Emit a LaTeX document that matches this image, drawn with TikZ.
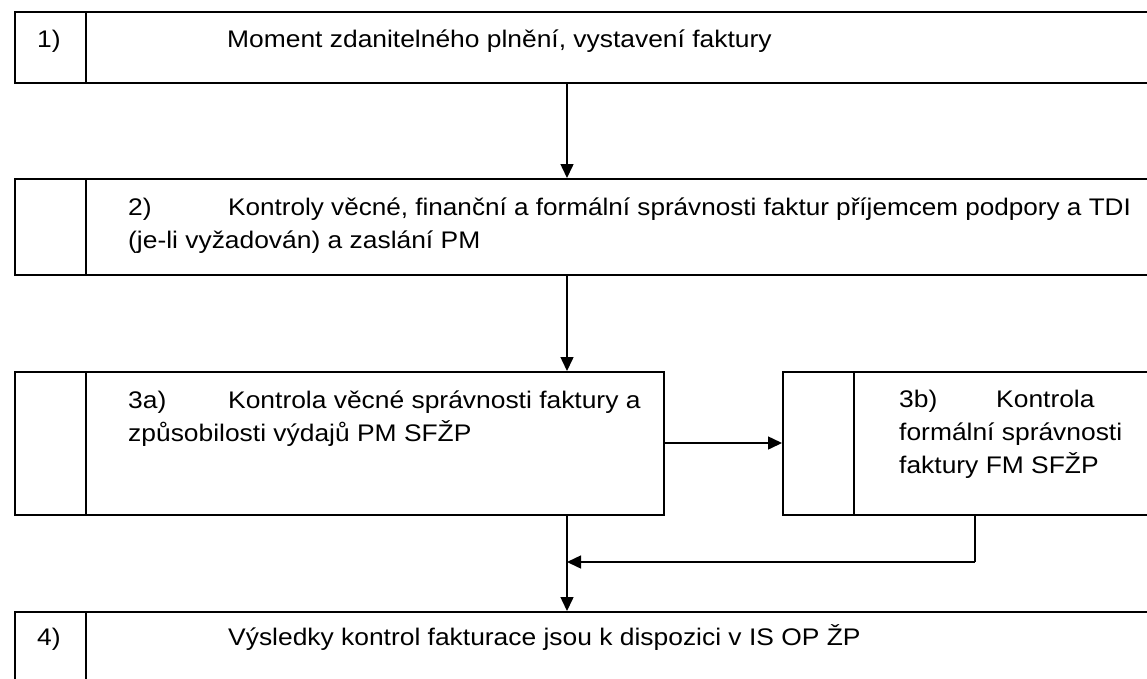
\documentclass[tikz,border=0pt]{standalone}
\usepackage{fontspec}
\setmainfont{Liberation Sans}[FakeStretch=1.1]
\newfontfamily\narrowf{Liberation Sans}[FakeStretch=1.088]
\usetikzlibrary{arrows.meta}
\begin{document}
\begin{tikzpicture}[x=1pt,y=-1pt,
  box/.style={draw=black,line width=1.5pt,rectangle,inner sep=0pt,anchor=north west},
  divider/.style={draw=black,line width=1.5pt},
  txt/.style={anchor=base west,inner sep=0pt,font=\fontsize{24}{33}\selectfont},
  conn/.style={draw=black,line width=1.5pt,-{Triangle[length=14pt,width=13pt]}},
  plain/.style={draw=black,line width=1.5pt}]
\useasboundingbox (0,0) rectangle (1147,678);
\clip (0,0) rectangle (1147,678);
\fill[white] (0,0) rectangle (1147,678);
% boxes
\node[box,minimum width=1146pt,minimum height=71pt] (b1) at (14,11) {};
\node[box,minimum width=1146pt,minimum height=96pt] (b2) at (14,178) {};
\node[box,minimum width=649pt,minimum height=143pt] (b3a) at (14,371) {};
\node[box,minimum width=378pt,minimum height=143pt] (b3b) at (782,371) {};
\node[box,minimum width=1146pt,minimum height=90pt] (b4) at (14,611) {};
% dividers
\coordinate (d1) at (86,0);
\coordinate (d2) at (854,0);
\draw[divider] (b1.north -| d1) -- (b1.south -| d1);
\draw[divider] (b2.north -| d1) -- (b2.south -| d1);
\draw[divider] (b3a.north -| d1) -- (b3a.south -| d1);
\draw[divider] (b3b.north -| d2) -- (b3b.south -| d2);
\draw[divider] (b4.north -| d1) -- (b4.south -| d1);
% texts
\node[txt] (t1n) at (37,47) {1)};
\node[txt] (t1) at (227,47) {Moment zdanitelného plnění, vystavení faktury};
\node[txt] (t2n) at (128,215) {2)};
\node[txt,font=\fontsize{24}{33}\narrowf] (t2a) at (228,215) {Kontroly věcné, finanční a formální správnosti faktur příjemcem podpory a TDI};
\node[txt] (t2b) at (128,248) {(je-li vyžadován) a zaslání PM};
\node[txt] (t3an) at (128,408) {3a)};
\node[txt] (t3a1) at (228,408) {Kontrola věcné správnosti faktury a};
\node[txt] (t3a2) at (128,441) {způsobilosti výdajů PM SFŽP};
\node[txt] (t3bn) at (899,407) {3b)};
\node[txt] (t3b1) at (996,407) {Kontrola};
\node[txt] (t3b2) at (899,440) {formální správnosti};
\node[txt] (t3b3) at (899,473) {faktury FM SFŽP};
\node[txt] (t4n) at (37,645) {4)};
\node[txt] (t4) at (228,645) {Výsledky kontrol fakturace jsou k dispozici v IS OP ŽP};
% connectors
\coordinate (cx) at (567,0);
\coordinate (rx) at (975,0);
\coordinate (hy) at (0,443);
\coordinate (j) at (567,562);
\coordinate (r) at (975,562);
\draw[conn] (b1.south -| cx) -- (b2.north -| cx);
\draw[conn] (b2.south -| cx) -- (b3a.north -| cx);
\draw[conn] (b3a.east |- hy) -- (b3b.west |- hy);
\draw[conn] (b3a.south -| cx) -- (b4.north -| cx);
\draw[plain] (b3b.south -| rx) -- (r);
\draw[conn] (r) -- (j);
\end{tikzpicture}
\end{document}
